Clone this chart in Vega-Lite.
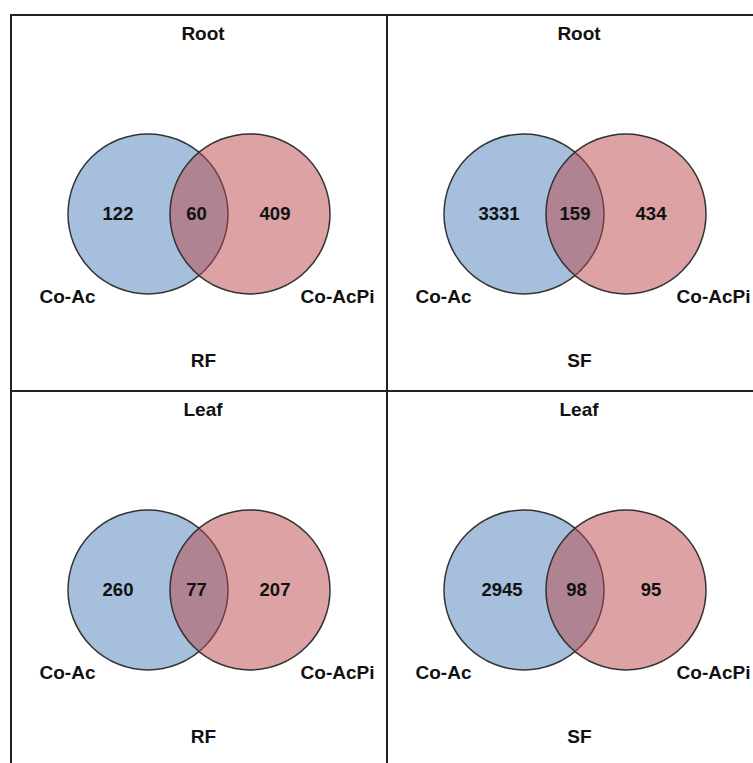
{
  "$schema": "https://vega.github.io/schema/vega-lite/v6.json",
  "padding": {"left": 10, "top": 14, "right": 0, "bottom": 0},
  "background": "white",
  "datasets": {
    "counts": [
      {"tissue": "Root", "fraction": "RF", "region": "Co-Ac only", "count": 122},
      {"tissue": "Root", "fraction": "RF", "region": "Both", "count": 60},
      {"tissue": "Root", "fraction": "RF", "region": "Co-AcPi only", "count": 409},
      {"tissue": "Root", "fraction": "SF", "region": "Co-Ac only", "count": 3331},
      {"tissue": "Root", "fraction": "SF", "region": "Both", "count": 159},
      {"tissue": "Root", "fraction": "SF", "region": "Co-AcPi only", "count": 434},
      {"tissue": "Leaf", "fraction": "RF", "region": "Co-Ac only", "count": 260},
      {"tissue": "Leaf", "fraction": "RF", "region": "Both", "count": 77},
      {"tissue": "Leaf", "fraction": "RF", "region": "Co-AcPi only", "count": 207},
      {"tissue": "Leaf", "fraction": "SF", "region": "Co-Ac only", "count": 2945},
      {"tissue": "Leaf", "fraction": "SF", "region": "Both", "count": 98},
      {"tissue": "Leaf", "fraction": "SF", "region": "Co-AcPi only", "count": 95}
    ],
    "sets": [
      {"tissue": "Root", "fraction": "RF", "set": "Co-Ac"},
      {"tissue": "Root", "fraction": "RF", "set": "Co-AcPi"},
      {"tissue": "Root", "fraction": "SF", "set": "Co-Ac"},
      {"tissue": "Root", "fraction": "SF", "set": "Co-AcPi"},
      {"tissue": "Leaf", "fraction": "RF", "set": "Co-Ac"},
      {"tissue": "Leaf", "fraction": "RF", "set": "Co-AcPi"},
      {"tissue": "Leaf", "fraction": "SF", "set": "Co-Ac"},
      {"tissue": "Leaf", "fraction": "SF", "set": "Co-AcPi"}
    ]
  },
  "columns": 2,
  "spacing": 0,
  "bounds": "flush",
  "concat": [
    {
      "width": 376, "height": 376,
      "title": {"text": "Root"},
      "layer": [
        {
          "data": {"name": "sets"},
          "transform": [{"filter": "datum.tissue === 'Root' && datum.fraction === 'RF'"}],
          "mark": {"type": "circle", "size": 25600, "opacity": 1, "fillOpacity": 0.5, "stroke": "#333", "strokeWidth": 1.5, "strokeOpacity": 1},
          "encoding": {
            "x": {"field": "set", "type": "nominal", "title": "RF", "scale": {"domain": ["Co-Ac", "Co-AcPi"], "padding": 0, "range": [137, 239]}},
            "y": {"field": "tissue", "type": "nominal", "axis": null, "scale": {"align": 0.529}},
            "color": {"field": "set", "type": "nominal", "legend": null, "scale": {"domain": ["Co-Ac", "Co-AcPi"], "range": ["#4b7fbb", "#bb4749"]}}
          }
        },
        {
          "data": {"name": "counts"},
          "transform": [{"filter": "datum.tissue === 'Root' && datum.fraction === 'RF'"}],
          "mark": {"type": "text", "fontSize": 18.5, "fontWeight": "bold", "font": "Liberation Sans", "color": "#111"},
          "encoding": {
            "x": {"field": "region", "type": "nominal", "axis": null, "scale": {"domain": ["Co-Ac only", "Both", "Co-AcPi only"], "padding": 0, "range": [107, 264]}},
            "y": {"field": "tissue", "type": "nominal", "axis": null, "scale": {"align": 0.529}},
            "text": {"field": "count", "type": "quantitative"}
          }
        }
      ],
      "resolve": {"scale": {"x": "independent"}, "axis": {"x": "independent"}}
    },
    {
      "width": 376, "height": 376,
      "title": {"text": "Root"},
      "layer": [
        {
          "data": {"name": "sets"},
          "transform": [{"filter": "datum.tissue === 'Root' && datum.fraction === 'SF'"}],
          "mark": {"type": "circle", "size": 25600, "opacity": 1, "fillOpacity": 0.5, "stroke": "#333", "strokeWidth": 1.5, "strokeOpacity": 1},
          "encoding": {
            "x": {"field": "set", "type": "nominal", "title": "SF", "scale": {"domain": ["Co-Ac", "Co-AcPi"], "padding": 0, "range": [137, 239]}},
            "y": {"field": "tissue", "type": "nominal", "axis": null, "scale": {"align": 0.529}},
            "color": {"field": "set", "type": "nominal", "legend": null, "scale": {"domain": ["Co-Ac", "Co-AcPi"], "range": ["#4b7fbb", "#bb4749"]}}
          }
        },
        {
          "data": {"name": "counts"},
          "transform": [{"filter": "datum.tissue === 'Root' && datum.fraction === 'SF'"}],
          "mark": {"type": "text", "fontSize": 18.5, "fontWeight": "bold", "font": "Liberation Sans", "color": "#111"},
          "encoding": {
            "x": {"field": "region", "type": "nominal", "axis": null, "scale": {"domain": ["Co-Ac only", "Both", "Co-AcPi only"], "padding": 0, "range": [112, 264]}},
            "y": {"field": "tissue", "type": "nominal", "axis": null, "scale": {"align": 0.529}},
            "text": {"field": "count", "type": "quantitative"}
          }
        }
      ],
      "resolve": {"scale": {"x": "independent"}, "axis": {"x": "independent"}}
    },
    {
      "width": 376, "height": 376,
      "title": {"text": "Leaf"},
      "layer": [
        {
          "data": {"name": "sets"},
          "transform": [{"filter": "datum.tissue === 'Leaf' && datum.fraction === 'RF'"}],
          "mark": {"type": "circle", "size": 25600, "opacity": 1, "fillOpacity": 0.5, "stroke": "#333", "strokeWidth": 1.5, "strokeOpacity": 1},
          "encoding": {
            "x": {"field": "set", "type": "nominal", "title": "RF", "scale": {"domain": ["Co-Ac", "Co-AcPi"], "padding": 0, "range": [137, 239]}},
            "y": {"field": "tissue", "type": "nominal", "axis": null, "scale": {"align": 0.529}},
            "color": {"field": "set", "type": "nominal", "legend": null, "scale": {"domain": ["Co-Ac", "Co-AcPi"], "range": ["#4b7fbb", "#bb4749"]}}
          }
        },
        {
          "data": {"name": "counts"},
          "transform": [{"filter": "datum.tissue === 'Leaf' && datum.fraction === 'RF'"}],
          "mark": {"type": "text", "fontSize": 18.5, "fontWeight": "bold", "font": "Liberation Sans", "color": "#111"},
          "encoding": {
            "x": {"field": "region", "type": "nominal", "axis": null, "scale": {"domain": ["Co-Ac only", "Both", "Co-AcPi only"], "padding": 0, "range": [107, 264]}},
            "y": {"field": "tissue", "type": "nominal", "axis": null, "scale": {"align": 0.529}},
            "text": {"field": "count", "type": "quantitative"}
          }
        }
      ],
      "resolve": {"scale": {"x": "independent"}, "axis": {"x": "independent"}}
    },
    {
      "width": 376, "height": 376,
      "title": {"text": "Leaf"},
      "layer": [
        {
          "data": {"name": "sets"},
          "transform": [{"filter": "datum.tissue === 'Leaf' && datum.fraction === 'SF'"}],
          "mark": {"type": "circle", "size": 25600, "opacity": 1, "fillOpacity": 0.5, "stroke": "#333", "strokeWidth": 1.5, "strokeOpacity": 1},
          "encoding": {
            "x": {"field": "set", "type": "nominal", "title": "SF", "scale": {"domain": ["Co-Ac", "Co-AcPi"], "padding": 0, "range": [137, 239]}},
            "y": {"field": "tissue", "type": "nominal", "axis": null, "scale": {"align": 0.529}},
            "color": {"field": "set", "type": "nominal", "legend": null, "scale": {"domain": ["Co-Ac", "Co-AcPi"], "range": ["#4b7fbb", "#bb4749"]}}
          }
        },
        {
          "data": {"name": "counts"},
          "transform": [{"filter": "datum.tissue === 'Leaf' && datum.fraction === 'SF'"}],
          "mark": {"type": "text", "fontSize": 18.5, "fontWeight": "bold", "font": "Liberation Sans", "color": "#111"},
          "encoding": {
            "x": {"field": "region", "type": "nominal", "axis": null, "scale": {"domain": ["Co-Ac only", "Both", "Co-AcPi only"], "padding": 0, "range": [115, 264]}},
            "y": {"field": "tissue", "type": "nominal", "axis": null, "scale": {"align": 0.529}},
            "text": {"field": "count", "type": "quantitative"}
          }
        }
      ],
      "resolve": {"scale": {"x": "independent"}, "axis": {"x": "independent"}}
    }
  ],
  "config": {
    "view": {"stroke": "#222", "strokeWidth": 2},
    "title": {"orient": "top", "anchor": "middle", "frame": "group", "baseline": "top", "offset": -29, "dx": 4, "font": "Liberation Sans", "fontSize": 19, "fontWeight": "bold", "color": "#111"},
    "axisX": {
      "orient": "bottom",
      "offset": -108,
      "domain": false,
      "ticks": false,
      "grid": false,
      "labelAngle": 0,
      "labelPadding": 4,
      "labelFont": "Liberation Sans",
      "labelFontSize": 19,
      "labelFontWeight": "bold",
      "labelColor": "#111",
      "labelAlign": {"condition": {"test": "datum.value === 'Co-AcPi'", "value": "right"}, "value": "center"},
      "labelOffset": {"condition": {"test": "datum.value === 'Co-AcPi'", "value": 124}, "value": -81},
      "titleFont": "Liberation Sans",
      "titleFontSize": 19,
      "titleFontWeight": "bold",
      "titleColor": "#111",
      "titlePadding": 45,
      "titleBaseline": "top",
      "titleAlign": "center",
      "titleX": 192
    }
  }
}
